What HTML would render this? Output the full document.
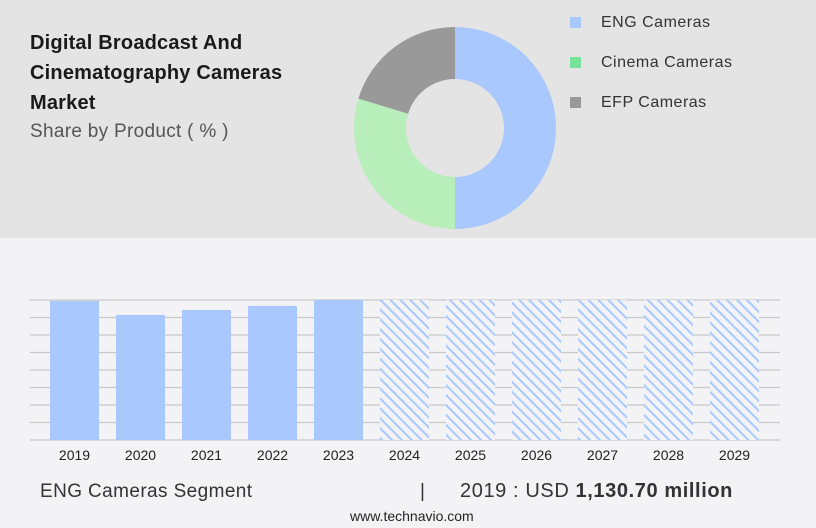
<!DOCTYPE html>
<html><head><meta charset="utf-8"><style>
body{margin:0;width:816px;height:528px;overflow:hidden;background:#f3f3f5;font-family:"Liberation Sans",sans-serif;position:relative}
.top{position:absolute;left:0;top:0;width:816px;height:238px;background:#e4e4e4}
.title{position:absolute;left:30px;top:28px;font-size:20px;font-weight:bold;line-height:30px;color:#1a1a1a;letter-spacing:0.2px}
.sub{position:absolute;left:30px;top:121px;font-size:19px;color:#555;letter-spacing:0.3px}
.leg{position:absolute;left:570px;font-size:16px;color:#333;letter-spacing:0.5px}
.leg span{display:inline-block;width:11px;height:11px;margin-right:20px;vertical-align:-1px}
.foot{position:absolute;top:481px;font-size:19px;color:#333}
</style></head><body>
<div class="top"></div>
<div class="title">Digital Broadcast And<br>Cinematography Cameras<br>Market</div>
<div class="sub">Share by Product ( % )</div>
<div class="leg" style="top:14px"><span style="background:#a8c8fe"></span>ENG Cameras</div>
<div class="leg" style="top:54px"><span style="background:#77e39a"></span>Cinema Cameras</div>
<div class="leg" style="top:94px"><span style="background:#999"></span>EFP Cameras</div>
<svg id="svg" width="816" height="528" style="position:absolute;left:0;top:0">
<defs><pattern id="hatch" width="7" height="7" patternUnits="userSpaceOnUse" patternTransform="rotate(-45)"><rect width="7" height="7" fill="#f3f3f5"/><rect width="2" height="7" fill="#a8c8fe"/></pattern></defs>
</svg>
<div class="foot" style="left:40px;letter-spacing:0.4px">ENG Cameras Segment</div>
<div class="foot" style="left:420px">|</div>
<div class="foot" style="left:460px;letter-spacing:0.6px;font-size:20px;top:480px">2019 : USD <b>1,130.70 million</b></div>
<div style="position:absolute;left:350px;top:508px;font-size:14px;color:#222">www.technavio.com</div>
<script>
const sliceNames=["ENG Cameras","Cinema Cameras","EFP Cameras"];
const sliceValues=[50,29.7,20.3];
const sliceColors=["#a8c8fe","#b8eeb9","#999999"];
const years=["2019","2020","2021","2022","2023","2024","2025","2026","2027","2028","2029"];
const values=[1130.7,1017,1057,1090,1138,null,null,null,null,null,null];
const yMax=1138;
const NS="http://www.w3.org/2000/svg";
const svg=document.getElementById('svg');
function mk(t,a){const e=document.createElementNS(NS,t);for(const k in a)e.setAttribute(k,a[k]);svg.appendChild(e);return e;}
const cx=455,cy=128,R=101,r=49;
const tot=sliceValues.reduce((a,b)=>a+b,0);let acc=0;
function pt(rad,ang){return [cx+rad*Math.sin(ang),cy-rad*Math.cos(ang)];}
sliceValues.forEach((v,i)=>{
 const a0=acc/tot*2*Math.PI;acc+=v;const a1=acc/tot*2*Math.PI;
 const L=(a1-a0)>Math.PI?1:0;
 const [x0,y0]=pt(R,a0),[x1,y1]=pt(R,a1),[x2,y2]=pt(r,a1),[x3,y3]=pt(r,a0);
 const p=mk('path',{d:`M${x0},${y0}A${R},${R} 0 ${L} 1 ${x1},${y1}L${x2},${y2}A${r},${r} 0 ${L} 0 ${x3},${y3}Z`,fill:sliceColors[i]});
 
 
});
const x0=30,x1=780,yTop=300,yBase=440,step=66,bw=49,firstX=50;
const yS=v=>yBase-(v/yMax)*(yBase-yTop);
for(let i=0;i<=8;i++){const y=yTop+i*(yBase-yTop)/8;
 const g=mk('line',{x1:x0,x2:x1,y1:y,y2:y,stroke:'#c8c8c8','stroke-width':1.2});
 
 }
years.forEach((yr,i)=>{
 const x=firstX+i*step;const v=values[i];
 const b=mk('rect',v!=null?{x:x,y:yS(v),width:bw,height:yBase-yS(v),fill:'#a8c8fe'}:{x:x,y:yTop,width:bw,height:yBase-yTop,fill:'url(#hatch)'});
 
 
 const t=mk('text',{x:x+bw/2,y:460,'text-anchor':'middle','font-size':14,fill:'#222','font-family':'Liberation Sans, sans-serif'});
 t.textContent=yr;
 
 
});
</script>
</body></html>
